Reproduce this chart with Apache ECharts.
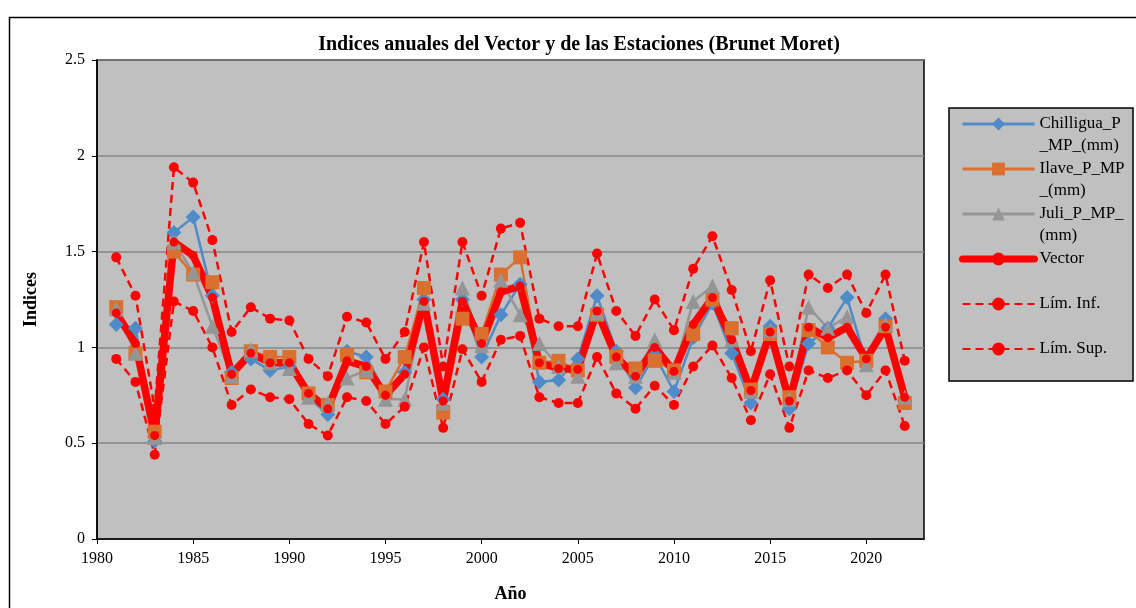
<!DOCTYPE html>
<html>
<head>
<meta charset="utf-8">
<script src="https://cdn.jsdelivr.net/npm/echarts@6/dist/echarts.min.js"></script>
<style>
  html, body { margin: 0; padding: 0; background: #fff; }
  #chart { width: 1136px; height: 608px; }
</style>
</head>
<body>
<div id="chart"></div>
<script>
// años 1981 - 2022
const years = [1981, 1982, 1983, 1984, 1985, 1986, 1987, 1988, 1989, 1990,
  1991, 1992, 1993, 1994, 1995, 1996, 1997, 1998, 1999, 2000,
  2001, 2002, 2003, 2004, 2005, 2006, 2007, 2008, 2009, 2010,
  2011, 2012, 2013, 2014, 2015, 2016, 2017, 2018, 2019, 2020,
  2021, 2022]

const chilligua = [1.12, 1.10, 0.51, 1.60, 1.68, 1.27, 0.87, 0.94, 0.88, 0.90,
  0.74, 0.65, 0.98, 0.95, 0.76, 0.87, 1.25, 0.73, 1.25, 0.95,
  1.17, 1.33, 0.82, 0.83, 0.94, 1.27, 0.98, 0.79, 0.96, 0.77,
  1.05, 1.23, 0.97, 0.71, 1.11, 0.68, 1.02, 1.10, 1.26, 0.92,
  1.15, 0.72]

const ilave = [1.21, 0.97, 0.56, 1.50, 1.38, 1.34, 0.84, 0.98, 0.95, 0.95,
  0.76, 0.70, 0.96, 0.87, 0.77, 0.95, 1.31, 0.66, 1.15, 1.07,
  1.38, 1.47, 0.92, 0.93, 0.88, 1.17, 0.95, 0.89, 0.93, 0.88,
  1.07, 1.25, 1.10, 0.78, 1.07, 0.74, 1.09, 1.00, 0.92, 0.93,
  1.11, 0.71]

const juli = [1.20, 0.97, 0.53, 1.55, 1.39, 1.11, 0.85, 0.99, 0.92, 0.89,
  0.74, 0.71, 0.84, 0.88, 0.73, 0.73, 1.23, 0.71, 1.31, 1.01,
  1.35, 1.17, 1.02, 0.90, 0.85, 1.18, 0.92, 0.85, 1.04, 0.87,
  1.24, 1.32, 1.04, 0.77, 1.09, 0.73, 1.21, 1.10, 1.16, 0.91,
  1.12, 0.74]

const vector = [1.18, 1.02, 0.54, 1.55, 1.48, 1.26, 0.86, 0.97, 0.92, 0.92,
  0.76, 0.68, 0.93, 0.90, 0.75, 0.86, 1.24, 0.72, 1.24, 1.02,
  1.29, 1.32, 0.92, 0.89, 0.885, 1.19, 0.95, 0.85, 1.00, 0.875,
  1.12, 1.26, 1.04, 0.775, 1.08, 0.72, 1.105, 1.05, 1.105, 0.94,
  1.105, 0.74]

const limInf = [0.94, 0.82, 0.44, 1.24, 1.19, 1.00, 0.70, 0.78, 0.74, 0.73,
  0.60, 0.54, 0.74, 0.72, 0.60, 0.69, 1.00, 0.58, 0.99, 0.82,
  1.04, 1.06, 0.74, 0.71, 0.71, 0.95, 0.76, 0.68, 0.80, 0.70,
  0.90, 1.01, 0.84, 0.62, 0.86, 0.58, 0.88, 0.84, 0.88, 0.75,
  0.88, 0.59]

const limSup = [1.47, 1.27, 0.68, 1.94, 1.86, 1.56, 1.08, 1.21, 1.15, 1.14,
  0.94, 0.85, 1.16, 1.13, 0.94, 1.08, 1.55, 0.90, 1.55, 1.27,
  1.62, 1.65, 1.15, 1.11, 1.11, 1.49, 1.19, 1.06, 1.25, 1.09,
  1.41, 1.58, 1.30, 0.98, 1.35, 0.90, 1.38, 1.31, 1.38, 1.18,
  1.38, 0.93]

const xTicks = [1980, 1985, 1990, 1995, 2000, 2005, 2010, 2015, 2020]

const serif = 'Liberation Serif'
const pairs = arr => years.map((y, i) => [y, arr[i]])

// texto de la leyenda partido en lineas (linea vacia arriba para alinear el icono)
const legendText = {
  'Chilligua_P_MP_(mm)': ' \nChilligua_P\n_MP_(mm)',
  'Ilave_P_MP_(mm)': ' \nIlave_P_MP\n_(mm)',
  'Juli_P_MP_(mm)': ' \nJuli_P_MP_\n(mm)',
  'Vector': ' \nVector\n ',
  'Lím. Inf.': ' \nLím. Inf.\n ',
  'Lím. Sup.': ' \nLím. Sup.\n '
}

const chart = echarts.init(document.getElementById('chart'))
chart.setOption({
  backgroundColor: '#fff',
  animation: false,
  title: {
    text: 'Indices anuales del Vector y de las Estaciones (Brunet Moret)',
    left: 574,
    textAlign: 'center',
    top: 30,
    textStyle: { fontFamily: serif, fontWeight: 'bold', fontSize: 20, color: '#000' }
  },
  graphic: [{
    type: 'rect',
    shape: { x: 9.5, y: 17.5, width: 1200, height: 700 },
    style: { fill: 'none', stroke: '#000', lineWidth: 1.5 },
    silent: true
  }, {
    type: 'rect',
    shape: { x: 949, y: 108, width: 184, height: 273 },
    style: { fill: '#C0C0C0', stroke: '#000', lineWidth: 1.5 },
    silent: true,
    z: 0
  }],
  legend: {
    orient: 'vertical',
    left: 959,
    top: 91,
    padding: 0,
    itemGap: -21,
    itemWidth: 72,
    itemHeight: 16,
    formatter: name => legendText[name],
    textStyle: { fontFamily: serif, fontSize: 17, color: '#000', lineHeight: 22 },
    data: [
      { name: 'Chilligua_P_MP_(mm)', lineStyle: { width: 3 } },
      { name: 'Ilave_P_MP_(mm)', lineStyle: { width: 3 } },
      { name: 'Juli_P_MP_(mm)', lineStyle: { width: 3 } },
      { name: 'Vector', lineStyle: { width: 7 } },
      { name: 'Lím. Inf.' },
      { name: 'Lím. Sup.' }
    ],
    z: 5
  },
  grid: {
    left: 97,
    top: 60,
    right: 212,
    bottom: 67,
    show: true,
    backgroundColor: '#C0C0C0',
    borderColor: '#000',
    borderWidth: 1.5
  },
  xAxis: {
    type: 'value',
    min: 1980,
    max: 2023,
    interval: 5,
    name: 'Año',
    nameLocation: 'middle',
    nameGap: 46,
    nameTextStyle: { fontFamily: serif, fontWeight: 'bold', fontSize: 18, color: '#000' },
    axisLine: { show: true, lineStyle: { color: '#000', width: 1.5 } },
    axisTick: { show: true, length: 5, lineStyle: { color: '#000' }, customValues: xTicks },
    axisLabel: {
      fontFamily: serif, fontSize: 16, color: '#000', margin: 12,
      customValues: xTicks,
      formatter: v => String(v)
    },
    splitLine: { show: false }
  },
  yAxis: {
    type: 'value',
    min: 0,
    max: 2.5,
    interval: 0.5,
    name: 'Indices',
    nameLocation: 'middle',
    nameGap: 57,
    nameRotate: 90,
    nameTextStyle: { fontFamily: serif, fontWeight: 'bold', fontSize: 18, color: '#000' },
    axisLine: { show: true, lineStyle: { color: '#000', width: 1.5 } },
    axisTick: { show: true, length: 5, lineStyle: { color: '#000' } },
    axisLabel: { fontFamily: serif, fontSize: 16, color: '#000', margin: 12 },
    splitLine: { show: true, lineStyle: { color: '#868686', width: 1.5 } }
  },
  series: [{
    name: 'Chilligua_P_MP_(mm)',
    type: 'line',
    data: pairs(chilligua),
    symbol: 'diamond',
    symbolSize: 15,
    lineStyle: { color: '#4F8BC9', width: 2.5 },
    itemStyle: { color: '#4F8BC9' }
  }, {
    name: 'Ilave_P_MP_(mm)',
    type: 'line',
    data: pairs(ilave),
    symbol: 'rect',
    symbolSize: 14,
    lineStyle: { color: '#D9702F', width: 2.5 },
    itemStyle: { color: '#D9702F' }
  }, {
    name: 'Juli_P_MP_(mm)',
    type: 'line',
    data: pairs(juli),
    symbol: 'triangle',
    symbolSize: 15,
    lineStyle: { color: '#959595', width: 2.5 },
    itemStyle: { color: '#959595' }
  }, {
    name: 'Vector',
    type: 'line',
    data: pairs(vector),
    symbol: 'circle',
    symbolSize: 9,
    lineStyle: { color: '#FF0000', width: 7.5, join: 'round', cap: 'round' },
    itemStyle: { color: '#FF0000' }
  }, {
    name: 'Lím. Inf.',
    type: 'line',
    data: pairs(limInf),
    symbol: 'circle',
    symbolSize: 10,
    lineStyle: { color: '#FF0000', width: 2.5, type: [8, 5] },
    itemStyle: { color: '#FF0000' }
  }, {
    name: 'Lím. Sup.',
    type: 'line',
    data: pairs(limSup),
    symbol: 'circle',
    symbolSize: 10,
    lineStyle: { color: '#FF0000', width: 2.5, type: [8, 5] },
    itemStyle: { color: '#FF0000' }
  }]
})
</script>
</body>
</html>
